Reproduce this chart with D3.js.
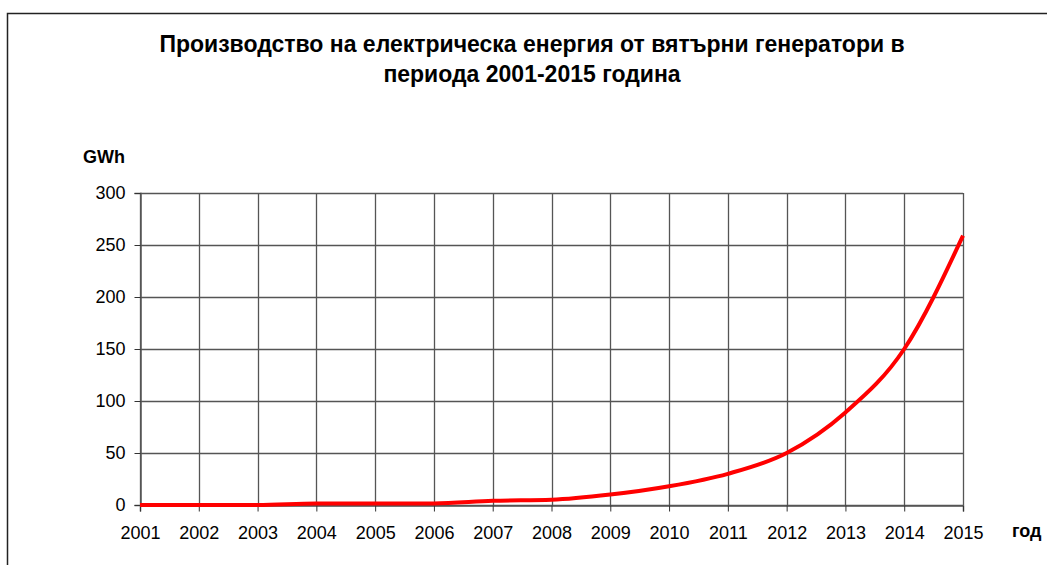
<!DOCTYPE html>
<html>
<head>
<meta charset="utf-8">
<script src="https://cdn.jsdelivr.net/npm/d3@7"></script>
<style>
  html, body { margin: 0; padding: 0; background: #fff; overflow: hidden; }
  svg { display: block; font-family: "Liberation Sans", Arial, sans-serif; }
</style>
</head>
<body>
<svg id="chart" width="1047" height="565"></svg>
<script>
// Wind power generation, GWh per year
const years = [2001, 2002, 2003, 2004, 2005, 2006, 2007, 2008, 2009, 2010, 2011, 2012, 2013, 2014, 2015];
const gwh   = [0, 0, 0, 1.5, 1.5, 1.5, 4, 5, 10, 18, 30, 50, 89, 150, 259];
const yTicks = [0, 50, 100, 150, 200, 250, 300];
const titleLines = [
  "Производство на електрическа енергия от вятърни генератори в",
  "периода 2001-2015 година"
];
const yLabel = "GWh";
const xLabel = "год";

const svg = d3.select("#chart");

// outer frame
svg.append("rect")
  .attr("x", 7.5).attr("y", 13.5)
  .attr("width", 1100).attr("height", 600)
  .attr("fill", "none").attr("stroke", "#222").attr("stroke-width", 1.5);

const plot = { left: 140, right: 963, top: 193, bottom: 505 };

const x = d3.scaleLinear().domain([years[0], years[years.length - 1]]).range([plot.left, plot.right]);
const y = d3.scaleLinear().domain([0, 300]).range([plot.bottom, plot.top]);

// grid
const grid = svg.append("g");
grid.selectAll("line.h").data(yTicks).join("line")
  .attr("x1", plot.left).attr("x2", plot.right)
  .attr("y1", d => Math.round(y(d)) + 0.5).attr("y2", d => Math.round(y(d)) + 0.5)
  .attr("stroke", "#555").attr("stroke-width", 1.3);
grid.selectAll("line.v").data(years).join("line")
  .attr("y1", plot.top).attr("y2", plot.bottom)
  .attr("x1", d => Math.round(x(d)) + 0.5).attr("x2", d => Math.round(x(d)) + 0.5)
  .attr("stroke", "#555").attr("stroke-width", 1.3);

// axes
const yAxis = svg.append("g")
  .attr("transform", `translate(${plot.left + 0.5},0)`)
  .call(d3.axisLeft(y).tickValues(yTicks).tickSize(6).tickPadding(9).tickFormat(d3.format("d")));
const xAxis = svg.append("g")
  .attr("transform", `translate(0,${Math.round(y(0)) + 0.5})`)
  .call(d3.axisBottom(x).tickValues(years).tickSize(6).tickPadding(15).tickFormat(d3.format("d")));

[yAxis, xAxis].forEach(g => {
  g.select(".domain").attr("stroke", "#555").attr("stroke-width", 1.5);
  g.selectAll(".tick line").attr("stroke", "#333");
  g.selectAll(".tick text")
    .attr("fill", "#000")
    .style("font-family", "'Liberation Sans', Arial, sans-serif")
    .style("font-size", "18px");
});

// series
svg.append("path")
  .datum(years.map((yr, i) => [yr, gwh[i]]))
  .attr("fill", "none")
  .attr("stroke", "#ff0000")
  .attr("stroke-width", 4)
  .attr("stroke-linejoin", "round")
  .attr("d", d3.line().x(d => x(d[0])).y(d => y(d[1])).curve(d3.curveMonotoneX));

// title
svg.append("g").selectAll("text").data(titleLines).join("text")
  .attr("x", 532).attr("y", (d, i) => 52 + i * 30)
  .attr("text-anchor", "middle")
  .style("font-size", "23px").style("font-weight", "bold")
  .text(d => d);

// axis titles
svg.append("text").attr("x", 83).attr("y", 163)
  .style("font-size", "18px").style("font-weight", "bold").text(yLabel);
svg.append("text").attr("x", 1012).attr("y", 537)
  .style("font-size", "18px").style("font-weight", "bold").text(xLabel);
</script>
</body>
</html>
